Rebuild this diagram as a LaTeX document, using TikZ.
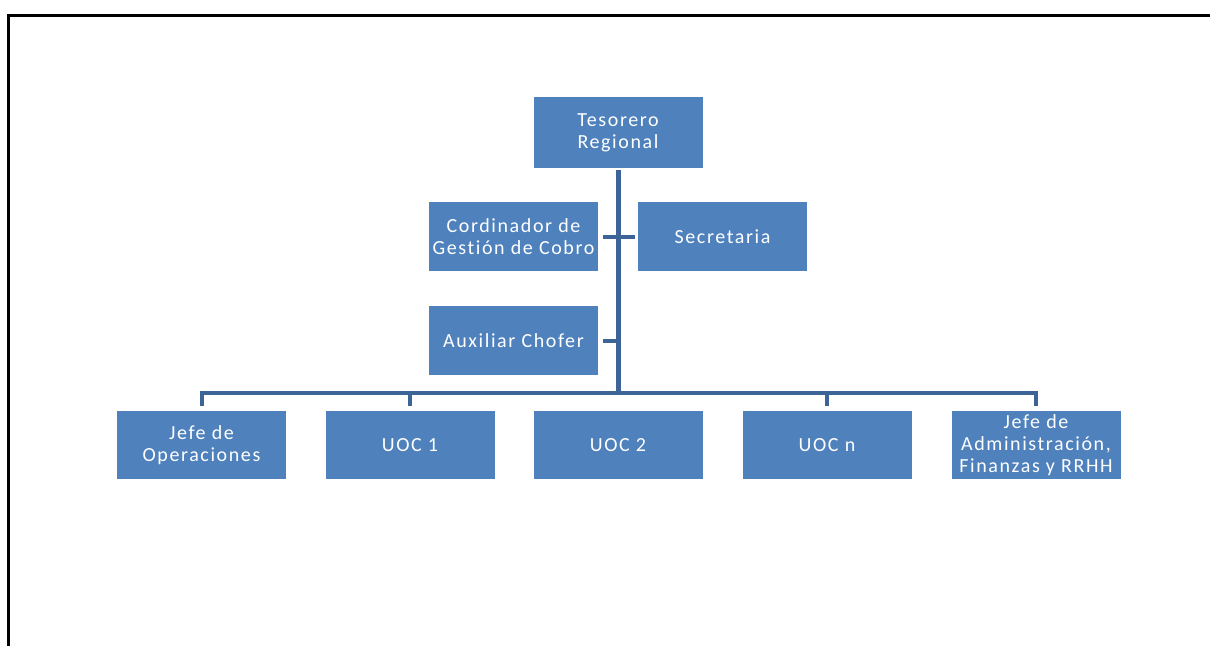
\documentclass[tikz,border=0pt]{standalone}
\usepackage{fontspec}
\setmainfont{Carlito}[LetterSpace=8,Ligatures=NoCommon]
\definecolor{boxblue}{RGB}{79,129,189}
\definecolor{linkblue}{RGB}{60,100,150}
\begin{document}
\begin{tikzpicture}[x=1pt,y=-1pt,
  orgbox/.style={rectangle, fill=boxblue, draw=none, minimum width=169pt, minimum height=69pt,
    inner sep=0pt, align=center, text=white, font=\fontsize{20}{22}\selectfont},
  link/.style={draw=linkblue, line width=5pt},
  thin link/.style={draw=linkblue, line width=4pt}]
\useasboundingbox (0,0) rectangle (1210,646);
% frame
\draw[line width=3pt, black] (8.5,646) -- (8.5,15) -- (1210,15);
% nodes
\node[orgbox, minimum height=71pt] (tes) at (618,132.5) {Tesorero\\Regional};
\node[orgbox] (cord) at (513.5,236.5) {Cordinador de\\Gestión de Cobro};
\node[orgbox] (sec) at (722.5,236.5) {Secretaria};
\node[orgbox] (aux) at (513.5,340.5) {Auxiliar Chofer};
\node[orgbox, minimum height=68pt] (jo) at (201.5,445) {Jefe de\\Operaciones};
\node[orgbox, minimum height=68pt] (u1) at (410,445) {UOC 1};
\node[orgbox, minimum height=68pt] (u2) at (618,445) {UOC 2};
\node[orgbox, minimum height=68pt] (un) at (827,445) {UOC n};
\node[orgbox, minimum height=68pt] (ja) at (1036,445) {Jefe de\\Administración,\\Finanzas y RRHH};
% connectors
\coordinate (bus) at (618,393);
\draw[link, shorten <=2pt] (tes.south) -- (bus);
\draw[thin link, shorten <=5pt, shorten >=3pt] (cord.east) -- (sec.west);
\draw[thin link, shorten <=5pt] (aux.east) -- (aux.east -| bus);
\draw[thin link, line cap=rect] (jo.north |- bus) -- (ja.north |- bus);
\foreach \n in {jo,u1,un,ja}{
  \draw[thin link, shorten <=5pt] (\n.north) -- (\n.north |- bus);
}
\end{tikzpicture}
\end{document}
